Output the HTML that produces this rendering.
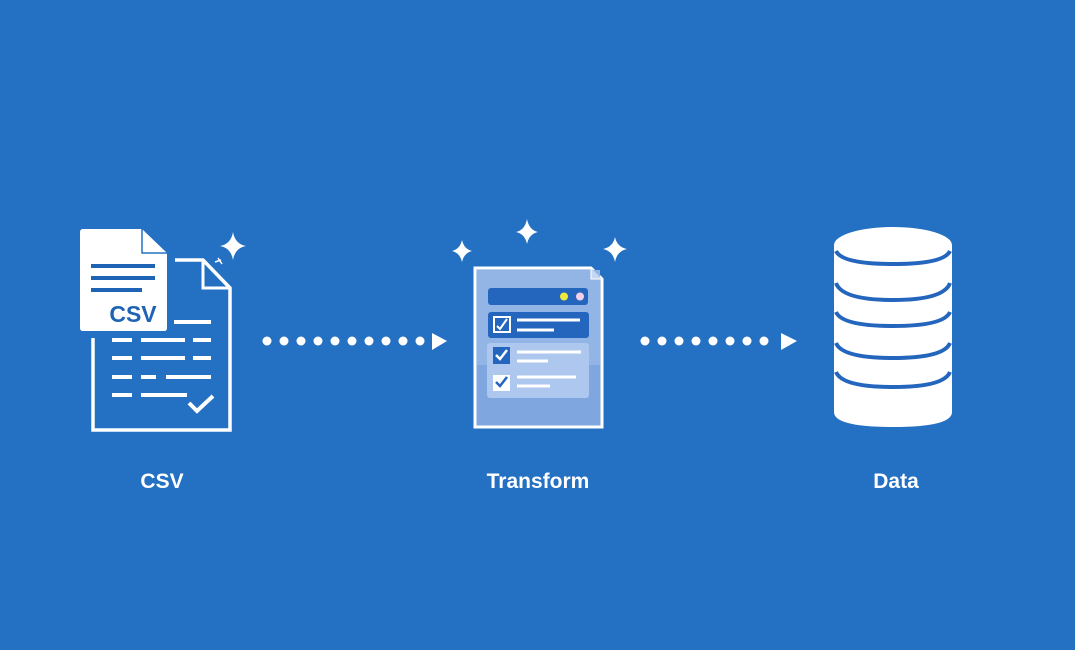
<!DOCTYPE html>
<html><head><meta charset="utf-8"><style>
html,body{margin:0;padding:0;background:#2470c2;}
svg{display:block}
</style></head><body>
<svg width="1075" height="650" viewBox="0 0 1075 650" xmlns="http://www.w3.org/2000/svg">
<rect width="1075" height="650" fill="#2470c2"/>
<!-- CSV icon back doc -->
<path d="M93 338 V430 H230 V288 L203 260 H175" fill="none" stroke="#fff" stroke-width="3.5"/>
<path d="M203 260 V288 H230" fill="none" stroke="#fff" stroke-width="3"/>
<g stroke="#fff" stroke-width="4">
<line x1="174" y1="322" x2="211" y2="322"/>
<line x1="112" y1="340" x2="132" y2="340"/><line x1="141" y1="340" x2="185" y2="340"/><line x1="193" y1="340" x2="211" y2="340"/>
<line x1="112" y1="358" x2="132" y2="358"/><line x1="141" y1="358" x2="185" y2="358"/><line x1="193" y1="358" x2="211" y2="358"/>
<line x1="112" y1="377" x2="132" y2="377"/><line x1="141" y1="377" x2="156" y2="377"/><line x1="166" y1="377" x2="211" y2="377"/>
<line x1="112" y1="395" x2="132" y2="395"/><line x1="141" y1="395" x2="187" y2="395"/>
</g>
<path d="M189 403 L197 411 L213 396" fill="none" stroke="#fff" stroke-width="4"/>
<!-- front card -->
<path d="M83 229 H142 L167 253 V328 Q167 331 164 331 H83 Q80 331 80 328 V232 Q80 229 83 229Z" fill="#fff"/>
<path d="M142 229 V253 H167" fill="none" stroke="#2470c2" stroke-width="1.5"/>
<g stroke="#1f63b5" stroke-width="4">
<line x1="91" y1="266" x2="155" y2="266"/><line x1="91" y1="278" x2="155" y2="278"/><line x1="91" y1="290" x2="142" y2="290"/>
</g>
<text x="133" y="322" font-family="Liberation Sans, sans-serif" font-weight="bold" font-size="23" fill="#1f63b5" text-anchor="middle">CSV</text>
<!-- sparkles -->
<path d="M233 232 Q235 244 246 246 Q235 248 233 260 Q231 248 220 246 Q231 244 233 232Z" fill="#fff"/>
<path d="M218 258 l4 6 M215 262 l6 -2" stroke="#fff" stroke-width="1.5"/>
<path d="M527 219 Q529 230 538 232 Q529 234 527 244 Q525 234 516 232 Q525 230 527 219Z" fill="#fff"/>
<path d="M462 240 Q464 249 472 251 Q464 253 462 262 Q460 253 452 251 Q460 249 462 240Z" fill="#fff"/>
<path d="M615 237 Q617 247 627 249 Q617 251 615 262 Q613 251 603 249 Q613 247 615 237Z" fill="#fff"/>
<!-- arrows -->
<g fill="#fff">
<circle cx="267" cy="341" r="4.5"/><circle cx="284" cy="341" r="4.5"/><circle cx="301" cy="341" r="4.5"/><circle cx="318" cy="341" r="4.5"/><circle cx="335" cy="341" r="4.5"/><circle cx="352" cy="341" r="4.5"/><circle cx="369" cy="341" r="4.5"/><circle cx="386" cy="341" r="4.5"/><circle cx="403" cy="341" r="4.5"/><circle cx="420" cy="341" r="4.5"/>
<path d="M432 333 L447 341 L432 350Z"/>
<circle cx="645" cy="341" r="4.5"/><circle cx="662" cy="341" r="4.5"/><circle cx="679" cy="341" r="4.5"/><circle cx="696" cy="341" r="4.5"/><circle cx="713" cy="341" r="4.5"/><circle cx="730" cy="341" r="4.5"/><circle cx="747" cy="341" r="4.5"/><circle cx="764" cy="341" r="4.5"/>
<path d="M781 333 L797 341 L781 350Z"/>
</g>
<!-- transform doc -->
<path d="M475 268 H591 L602 279 V427 H475Z" fill="#7fa6de" stroke="#fff" stroke-width="3"/>
<rect x="477" y="270" width="123" height="95" fill="#93b5e6"/>
<path d="M591 268 V279 H602" fill="#c5d8f3" stroke="#fff" stroke-width="1"/>
<rect x="488" y="288" width="100" height="17" rx="3" fill="#2466bd"/>
<circle cx="564" cy="296.5" r="4" fill="#f0e83a"/><circle cx="580" cy="296.5" r="4" fill="#f4d0e8"/>
<rect x="488" y="312" width="101" height="26" rx="3" fill="#2466bd"/>
<rect x="494" y="317" width="16" height="15" fill="none" stroke="#fff" stroke-width="2"/>
<path d="M497 326 L500 329 L507 319" fill="none" stroke="#fff" stroke-width="2"/>
<line x1="517" y1="320" x2="580" y2="320" stroke="#fff" stroke-width="3"/><line x1="517" y1="330" x2="554" y2="330" stroke="#fff" stroke-width="3"/>
<rect x="487" y="343" width="102" height="55" rx="3" fill="#adc7ee"/>
<rect x="493" y="347" width="17" height="17" fill="#2466bd"/>
<path d="M496 355 L500 359 L507 350" fill="none" stroke="#fff" stroke-width="2.5"/>
<rect x="493" y="375" width="17" height="16" fill="#fff"/>
<path d="M496 382 L500 386 L507 377" fill="none" stroke="#2466bd" stroke-width="2.5"/>
<line x1="517" y1="352" x2="581" y2="352" stroke="#fff" stroke-width="3"/><line x1="517" y1="361" x2="548" y2="361" stroke="#fff" stroke-width="3"/>
<line x1="517" y1="377" x2="576" y2="377" stroke="#fff" stroke-width="3"/><line x1="517" y1="386" x2="550" y2="386" stroke="#fff" stroke-width="3"/>
<!-- database -->
<path d="M834 245 V412 Q834 427 893 427 Q952 427 952 412 V245Z" fill="#fff"/>
<ellipse cx="893" cy="245" rx="59" ry="18" fill="#fff" stroke="#2466bd" stroke-width="0"/>
<g fill="none" stroke="#2466bd" stroke-width="4">
<path d="M836 251 Q842 264 893 264 Q944 264 950 251"/>
<path d="M836 283 Q842 300 893 300 Q944 300 950 283"/>
<path d="M836 312 Q842 326 893 326 Q944 326 950 312"/>
<path d="M836 343 Q842 358 893 358 Q944 358 950 343"/>
<path d="M836 372 Q842 387 893 387 Q944 387 950 372"/>
</g>
<!-- labels -->
<g font-family="Liberation Sans, sans-serif" font-weight="bold" font-size="21" fill="#fff" text-anchor="middle">
<text x="162" y="488">CSV</text>
<text x="538" y="488">Transform</text>
<text x="896" y="488">Data</text>
</g>
</svg>
</body></html>
